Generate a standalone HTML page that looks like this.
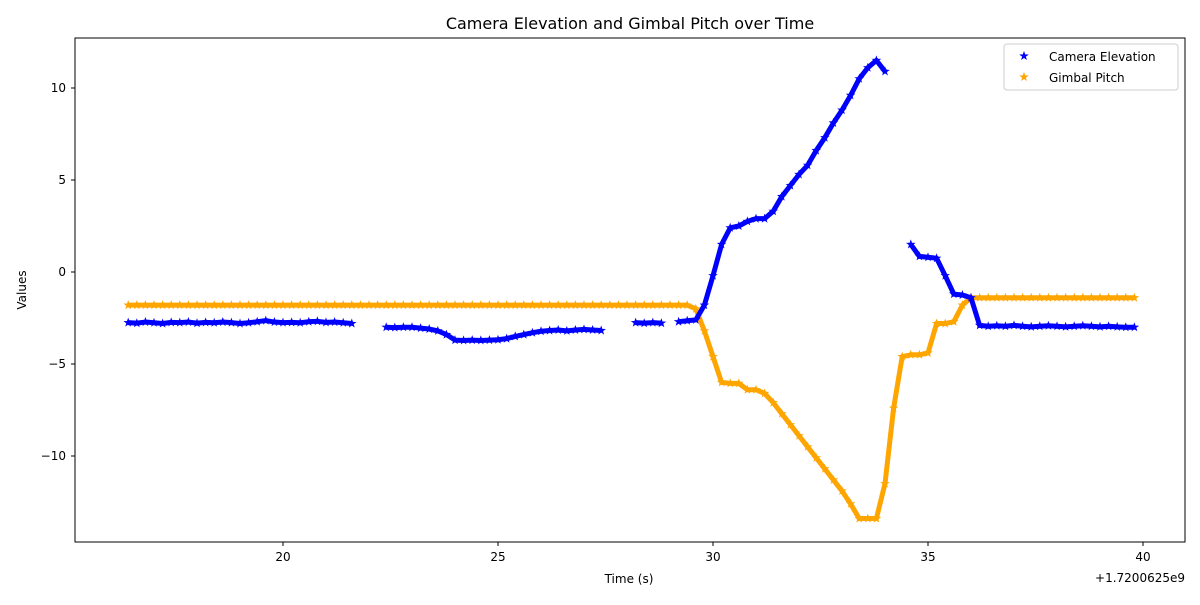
<!DOCTYPE html>
<html><head><meta charset="utf-8"><style>
body{margin:0;background:#fff;font-family:"Liberation Sans","DejaVu Sans",sans-serif}
svg text{font-family:"DejaVu Sans","Liberation Sans",sans-serif}
</style></head><body>
<svg id="chart" width="1200" height="600" xmlns="http://www.w3.org/2000/svg">
<rect width="1200" height="600" fill="#fff"/>
<text x="630" y="29" font-size="16" text-anchor="middle">Camera Elevation and Gimbal Pitch over Time</text>
<g id="marks"></g>
<rect x="75" y="38" width="1110" height="504" fill="none" stroke="#000" stroke-width="1"/>
<g id="axes"></g>
<text x="629" y="583" font-size="12" text-anchor="middle">Time (s)</text>
<text x="1185" y="582" font-size="12" text-anchor="end">+1.7200625e9</text>
<text x="26" y="290" font-size="12" text-anchor="middle" transform="rotate(-90 26 290)">Values</text>
<g>
<rect x="1004" y="44" width="174" height="46" rx="3" fill="#fff" stroke="#ccc"/>
<g id="legmarks"></g>
<text x="1049" y="61" font-size="12">Camera Elevation</text>
<text x="1049" y="82" font-size="12">Gimbal Pitch</text>
</g>
</svg>
<script>
const tStart = 16.4;
const tStep = 0.2;
const xTicks = [20, 25, 30, 35, 40];
const yTicks = [10, 5, 0, -5, -10];
const yTickLabels = ["10", "5", "0", "\u22125", "\u221210"];
const cameraElevation = [
-2.75,-2.78,-2.72,-2.76,-2.8,-2.74,-2.75,-2.72,-2.78,-2.74,-2.76,-2.72,-2.75,-2.8,-2.76,-2.7,-2.64,-2.72,-2.75,-2.74,-2.76,-2.7,-2.68,-2.74,-2.72,-2.76,-2.8,
null,null,null,
-3.0,-3.02,-3.0,-3.0,-3.05,
-3.1,-3.2,-3.4,
-3.7,-3.72,-3.7,-3.72,-3.7,-3.68,
-3.62,-3.5,-3.4,-3.3,-3.22,
-3.18,-3.15,-3.2,-3.15,-3.12,-3.15,-3.18,
null,null,null,
-2.75,-2.78,-2.75,-2.78,
null,
-2.7,-2.65,-2.6,
-1.8,-0.2,1.5,2.4,2.5,2.75,2.9,2.9,3.3,4.1,4.7,5.3,5.8,6.6,7.3,8.1,8.8,9.6,10.5,11.1,11.5,10.9,
null,null,
1.5,0.85,0.8,0.75,-0.2,-1.2,-1.25,-1.4,-2.9,
-2.95,-2.92,-2.95,-2.9,-2.95,-2.98,-2.95,-2.92,-2.95,-2.98,-2.95,-2.92,-2.95,-2.98,-2.95,-2.98,-3.0,-3.0
];
const gimbalPitch = [
-1.8,-1.8,-1.8,-1.8,-1.8,-1.8,-1.8,-1.8,-1.8,-1.8,-1.8,-1.8,-1.8,-1.8,-1.8,-1.8,-1.8,-1.8,-1.8,-1.8,-1.8,-1.8,
-1.8,-1.8,-1.8,-1.8,-1.8,-1.8,-1.8,-1.8,-1.8,-1.8,-1.8,-1.8,-1.8,-1.8,-1.8,-1.8,-1.8,-1.8,-1.8,-1.8,-1.8,-1.8,
-1.8,-1.8,-1.8,-1.8,-1.8,-1.8,-1.8,-1.8,-1.8,-1.8,-1.8,-1.8,-1.8,-1.8,-1.8,-1.8,-1.8,-1.8,-1.8,-1.8,-1.8,-1.8,
-2.0,-3.2,-4.6,-6.0,-6.05,-6.05,-6.4,-6.4,-6.6,-7.1,-7.7,-8.3,-8.9,-9.5,-10.1,-10.7,-11.3,-11.9,-12.6,-13.4,-13.4,-13.4,
-11.5,-7.4,-4.6,-4.5,-4.5,-4.4,-2.8,-2.8,-2.7,-1.8,
-1.4,-1.4,-1.4,-1.4,-1.4,-1.4,-1.4,-1.4,-1.4,-1.4,-1.4,-1.4,-1.4,-1.4,-1.4,-1.4,-1.4,-1.4,-1.4,-1.4
];
const NS="http://www.w3.org/2000/svg";
function xs(t){return 283+(t-20)*43;}
function ys(v){return 272-v*18.4;}
function starPts(cx,cy,r){
  let p=[];
  for(let k=0;k<10;k++){const a=-Math.PI/2+k*Math.PI/5;const rr=k%2?r*0.4:r;p.push((cx+rr*Math.cos(a)).toFixed(1)+","+(cy+rr*Math.sin(a)).toFixed(1));}
  return p.join(" ");
}
const marks=document.getElementById("marks");
function drawSeries(vals,color,name){
  const g=document.createElementNS(NS,"g");
  
  
  let seg=[];
  const flush=()=>{if(seg.length>1){const pl=document.createElementNS(NS,"polyline");pl.setAttribute("points",seg.join(" "));pl.setAttribute("fill","none");pl.setAttribute("stroke",color);pl.setAttribute("stroke-width","5");pl.setAttribute("stroke-linejoin","round");
    
    
    g.appendChild(pl);}seg=[];};
  vals.forEach((v,i)=>{
    if(v===null){flush();return;}
    const x=xs(tStart+i*tStep),y=ys(v);seg.push(x+","+y);
    const s=document.createElementNS(NS,"polygon");
    s.setAttribute("points",starPts(x,y,5));s.setAttribute("fill",color);
    
    
    g.appendChild(s);
  });
  flush();
  marks.appendChild(g);
}
drawSeries(gimbalPitch,"#ffa500","gimbal-pitch");
drawSeries(cameraElevation,"#0000ff","camera-elevation");
const axes=document.getElementById("axes");
xTicks.forEach(t=>{
  const x=xs(t);
  const l=document.createElementNS(NS,"line");l.setAttribute("x1",x);l.setAttribute("x2",x);l.setAttribute("y1",542);l.setAttribute("y2",546);l.setAttribute("stroke","#000");
  
  
  axes.appendChild(l);
  const tx=document.createElementNS(NS,"text");tx.setAttribute("x",x);tx.setAttribute("y",561);tx.setAttribute("font-size","12");tx.setAttribute("text-anchor","middle");tx.textContent=t;
  
  
  axes.appendChild(tx);
});
yTicks.forEach((v,i)=>{
  const y=ys(v);
  const l=document.createElementNS(NS,"line");l.setAttribute("x1",71);l.setAttribute("x2",75);l.setAttribute("y1",y);l.setAttribute("y2",y);l.setAttribute("stroke","#000");
  
  
  axes.appendChild(l);
  const tx=document.createElementNS(NS,"text");tx.setAttribute("x",66);tx.setAttribute("y",y+4);tx.setAttribute("font-size","12");tx.setAttribute("text-anchor","end");tx.textContent=yTickLabels[i];
  
  
  axes.appendChild(tx);
});
const lm=document.getElementById("legmarks");
[["#0000ff",56],["#ffa500",77]].forEach(([c,y])=>{
  const s=document.createElementNS(NS,"polygon");s.setAttribute("points",starPts(1024,y,5));s.setAttribute("fill",c);
  
  
  lm.appendChild(s);
});
</script>
</body></html>
